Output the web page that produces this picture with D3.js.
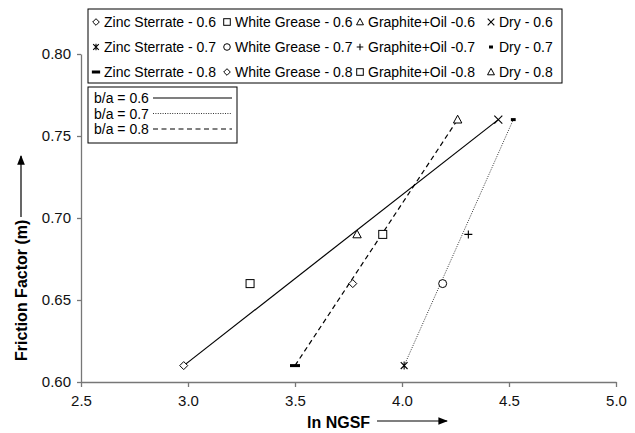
<!DOCTYPE html>
<html>
<head>
<meta charset="utf-8">
<script src="https://cdn.jsdelivr.net/npm/d3@7"></script>
<style>
body { margin: 0; background: #fff; }
text { font-family: "Liberation Sans", Arial, sans-serif; }
</style>
</head>
<body>
<script>
var w = 635;
var h = 433;

// data
var seriesNames = ["Zinc Sterrate - 0.6", "White Grease - 0.6", "Graphite+Oil -0.6", "Dry - 0.6",
    "Zinc Sterrate - 0.7", "White Grease - 0.7", "Graphite+Oil -0.7", "Dry - 0.7",
    "Zinc Sterrate - 0.8", "White Grease - 0.8", "Graphite+Oil -0.8", "Dry - 0.8"];
var seriesSymbols = ["diamond", "square", "triangle", "cross",
    "asterisk", "circle", "plus", "dash",
    "bar", "diamond", "square", "triangle"];
var xVals = [2.98, 3.29, 3.79, 4.45, 4.01, 4.19, 4.31, 4.52, 3.50, 3.77, 3.91, 4.26];
var yVals = [0.61, 0.66, 0.69, 0.76, 0.61, 0.66, 0.69, 0.76, 0.61, 0.66, 0.69, 0.76];
var ratioOf = [0.6, 0.6, 0.6, 0.6, 0.7, 0.7, 0.7, 0.7, 0.8, 0.8, 0.8, 0.8];
var ratios = [0.6, 0.7, 0.8];
var trendLabels = ["b/a = 0.6", "b/a = 0.7", "b/a = 0.8"];
var xTicks = [2.5, 3.0, 3.5, 4.0, 4.5, 5.0];
var yTicks = [0.60, 0.65, 0.70, 0.75, 0.80];

var x = d3.scaleLinear().domain([2.5, 5.0]).range([81, 616]);
var y = d3.scaleLinear().domain([0.60, 0.80]).range([382, 54]);

var svg = d3.select("body")
            .append("svg")
            .attr("width", w)
            .attr("height", h);

// axes
var xAxis = svg.append("g")
    .attr("transform", "translate(0," + y(0.60) + ")")
    .call(d3.axisBottom(x).tickValues(xTicks).tickFormat(d3.format(".1f")).tickSize(5).tickSizeOuter(0));
var yAxis = svg.append("g")
    .attr("transform", "translate(" + x(2.5) + ",0)")
    .call(d3.axisLeft(y).tickValues(yTicks).tickFormat(d3.format(".2f")).tickSize(4).tickSizeOuter(0));
[xAxis, yAxis].forEach(function(a){
    a.selectAll("path, line").attr("stroke", "#777").attr("stroke-width", 1.3);
    a.selectAll("text").attr("font-family", "Liberation Sans, Arial, sans-serif")
        .attr("font-size", "15px").attr("fill", "#111");
});
xAxis.selectAll("text").attr("dy", "1.05em");
yAxis.selectAll("text").attr("dx", "-0.2em");

// axis titles with arrows
svg.append("defs").append("marker")
    .attr("id", "arr")
    .attr("viewBox", "0 0 10 10")
    .attr("refX", 9).attr("refY", 5)
    .attr("markerWidth", 8).attr("markerHeight", 8)
    .attr("orient", "auto")
    .append("path").attr("d", "M0,1 L10,5 L0,9 Z").attr("fill", "#000");

svg.append("text")
    .attr("x", 307).attr("y", 428)
    .attr("font-size", "16px").attr("font-weight", "bold")
    .text("ln NGSF");
svg.append("line")
    .attr("x1", 377).attr("y1", 421).attr("x2", 447).attr("y2", 421)
    .attr("stroke", "#000").attr("stroke-width", 1.2)
    .attr("marker-end", "url(#arr)");

svg.append("text")
    .attr("transform", "translate(27,361) rotate(-90)")
    .attr("font-size", "16px").attr("font-weight", "bold")
    .text("Friction Factor (m)");
svg.append("line")
    .attr("x1", 21).attr("y1", 217).attr("x2", 21).attr("y2", 156)
    .attr("stroke", "#000").attr("stroke-width", 1.2)
    .attr("marker-end", "url(#arr)");

// trend lines per b/a, joining the end points of each group
var dashes = [null, "1,1.4", "5,3.5"];
var line = d3.line().x(function(d){ return x(d.x); }).y(function(d){ return y(d.y); });
ratios.forEach(function(r, k){
    var pts = xVals.map(function(v, i){ return {x: v, y: yVals[i], r: ratioOf[i]}; })
        .filter(function(d){ return d.r === r; })
        .sort(function(a, b){ return a.x - b.x; });
    svg.append("path")
        .datum([pts[0], pts[pts.length - 1]])
        .attr("d", line)
        .attr("fill", "none")
        .attr("stroke", k === 1 ? "#333" : "#000")
        .attr("stroke-width", k === 1 ? 1 : 1.2)
        .attr("stroke-dasharray", dashes[k]);
});

function drawSymbol(g, type, s){
    if (type === "diamond") {
        g.append("path").attr("d", "M0," + (-s) + "L" + s + ",0L0," + s + "L" + (-s) + ",0Z")
            .attr("fill", "#fff").attr("stroke", "#000");
    } else if (type === "square") {
        g.append("rect").attr("x", -s).attr("y", -s).attr("width", 2 * s).attr("height", 2 * s)
            .attr("fill", "#fff").attr("stroke", "#000");
    } else if (type === "triangle") {
        g.append("path").attr("d", "M0," + (-s * 1.1) + "L" + (s * 1.05) + "," + (s * 0.85) + "L" + (-s * 1.05) + "," + (s * 0.85) + "Z")
            .attr("fill", "#fff").attr("stroke", "#000");
    } else if (type === "cross") {
        g.append("path").attr("d", "M" + (-s) + "," + (-s) + "L" + s + "," + s + "M" + s + "," + (-s) + "L" + (-s) + "," + s)
            .attr("stroke", "#000").attr("stroke-width", 1.1);
    } else if (type === "asterisk") {
        var a = s * 0.85;
        g.append("path").attr("d", "M" + (-a) + "," + (-a) + "L" + a + "," + a + "M" + a + "," + (-a) + "L" + (-a) + "," + a + "M0," + (-s) + "V" + s)
            .attr("stroke", "#000").attr("stroke-width", 1.1);
    } else if (type === "circle") {
        g.append("circle").attr("r", s).attr("fill", "#fff").attr("stroke", "#000");
    } else if (type === "plus") {
        g.append("path").attr("d", "M" + (-s) + ",0H" + s + "M0," + (-s) + "V" + s)
            .attr("stroke", "#000").attr("stroke-width", 1.1);
    } else if (type === "dash") {
        g.append("rect").attr("x", -s * 0.6).attr("y", -1.5).attr("width", s * 1.2).attr("height", 3)
            .attr("fill", "#000");
    } else if (type === "bar") {
        g.append("rect").attr("x", -s * 1.25).attr("y", -1.5).attr("width", s * 2.5).attr("height", 3)
            .attr("fill", "#000");
    }
}

// points
svg.selectAll("g.pt")
    .data(xVals)
    .enter()
    .append("g")
    .attr("class", "pt")
    .attr("transform", function(d, i){ return "translate(" + x(d) + "," + y(yVals[i]) + ")"; })
    .each(function(d, i){ drawSymbol(d3.select(this), seriesSymbols[i], 4); });

// legend of series
var leg = svg.append("g");
leg.append("rect").attr("x", 88).attr("y", 9).attr("width", 474).attr("height", 74)
    .attr("fill", "#fff").attr("stroke", "#000");
var colX = [96, 227, 360, 491];
var rowY = [22, 47, 72];
var items = leg.selectAll("g.it")
    .data(seriesNames)
    .enter()
    .append("g")
    .attr("class", "it")
    .attr("transform", function(d, i){ return "translate(" + colX[i % 4] + "," + rowY[Math.floor(i / 4)] + ")"; });
items.each(function(d, i){ drawSymbol(d3.select(this), seriesSymbols[i], 3.3); });
items.append("text")
    .attr("x", 8).attr("y", 5)
    .attr("font-size", "14px")
    .text(function(d){ return d; });

// legend of trend lines
var leg2 = svg.append("g");
leg2.append("rect").attr("x", 88).attr("y", 87).attr("width", 149).attr("height", 56)
    .attr("fill", "#fff").attr("stroke", "#000");
trendLabels.forEach(function(t, k){
    var yy = 98 + k * 15.5;
    leg2.append("text").attr("x", 94).attr("y", yy + 5).attr("font-size", "14px").text(t);
    leg2.append("line").attr("x1", 153).attr("x2", 232).attr("y1", yy).attr("y2", yy)
        .attr("stroke", k === 1 ? "#333" : "#000")
        .attr("stroke-width", k === 1 ? 1 : 1.2)
        .attr("stroke-dasharray", dashes[k]);
});
</script>
</body>
</html>
